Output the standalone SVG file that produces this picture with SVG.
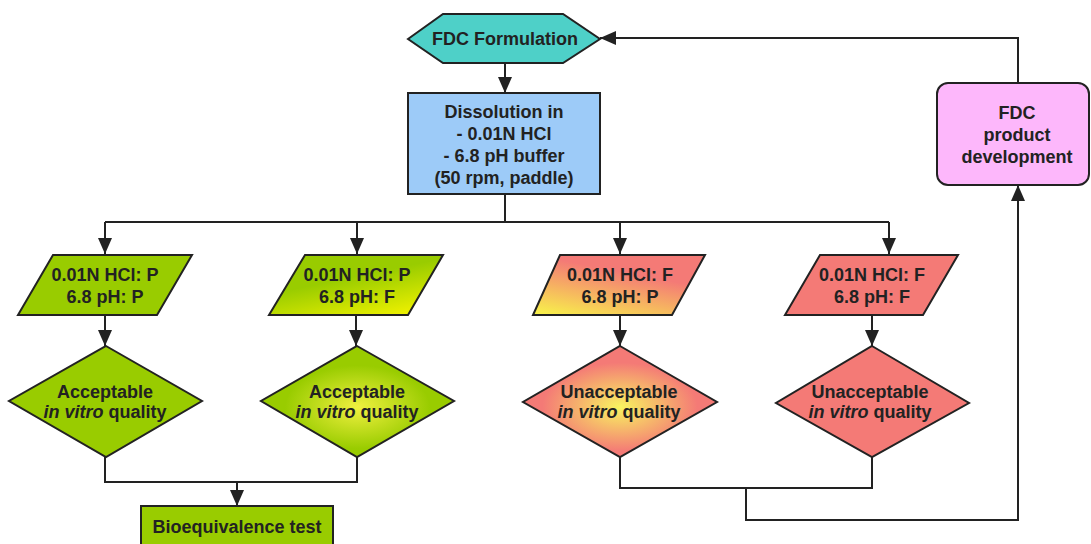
<svg xmlns="http://www.w3.org/2000/svg" width="1091" height="544" viewBox="0 0 1091 544">
<style>
.s{stroke:#222;stroke-width:2;stroke-linejoin:miter}
.t{font-family:"Liberation Sans",Arial,sans-serif;font-weight:bold;font-size:18px;fill:#222;text-anchor:middle}
.c{fill:none;stroke:#222;stroke-width:2}
.green{fill:#99CC00}
.red{fill:#F47A76}
</style>
<defs>
<marker id="ah" viewBox="0 0 16 14" refX="16" refY="7" markerWidth="16" markerHeight="14" markerUnits="userSpaceOnUse" orient="auto">
<path d="M0,0 L16,7 L0,14 Z" fill="#222"/>
</marker>
<linearGradient id="gy" x1="0.3" y1="0" x2="0.9" y2="1">
<stop offset="0.35" stop-color="#99CC00"/>
<stop offset="1" stop-color="#F6F400"/>
</linearGradient>
<linearGradient id="yr" x1="0.05" y1="1" x2="0.6" y2="0">
<stop offset="0" stop-color="#F8F24A"/>
<stop offset="0.75" stop-color="#F47A76"/>
</linearGradient>
<radialGradient id="rgy" cx="0.5" cy="0.55" r="0.5">
<stop offset="0" stop-color="#F0F040"/>
<stop offset="0.75" stop-color="#99CC00"/>
</radialGradient>
<radialGradient id="rry" cx="0.5" cy="0.55" r="0.5">
<stop offset="0" stop-color="#F8F460"/>
<stop offset="0.8" stop-color="#F47A76"/>
</radialGradient>
</defs>
<rect width="1091" height="544" fill="#fff"/>

<g id="connectors">
<path class="c" d="M505,63 V93" marker-end="url(#ah)"/>
<path class="c" d="M505,194 V222"/>
<path class="c" d="M105,222 H889"/>
<path class="c" d="M105,222 V254" marker-end="url(#ah)"/>
<path class="c" d="M357,222 V254" marker-end="url(#ah)"/>
<path class="c" d="M620,222 V254" marker-end="url(#ah)"/>
<path class="c" d="M889,222 V254" marker-end="url(#ah)"/>
<path class="c" d="M105,315 V346" marker-end="url(#ah)"/>
<path class="c" d="M356,315 V346" marker-end="url(#ah)"/>
<path class="c" d="M620,315 V346" marker-end="url(#ah)"/>
<path class="c" d="M872,315 V346" marker-end="url(#ah)"/>
<path class="c" d="M105,457 V482 H357 V457"/>
<path class="c" d="M237,482 V506" marker-end="url(#ah)"/>
<path class="c" d="M620,457 V488 H872 V457"/>
<path class="c" d="M746,488 V520 H1018 V185" marker-end="url(#ah)"/>
<path class="c" d="M1018,83 V38 H600" marker-end="url(#ah)"/>
</g>

<g id="fdc-formulation">
<polygon class="s" fill="#4ED0C8" points="408,39 443,14 563,14 600,39 563,63 443,63"/>
<text class="t" x="505" y="45">FDC Formulation</text>
</g>

<g id="dissolution">
<rect class="s" fill="#9DCBF8" x="408" y="93" width="192" height="101"/>
<text class="t" x="504" y="118">Dissolution in</text>
<text class="t" x="504" y="140">- 0.01N HCl</text>
<text class="t" x="504" y="162">- 6.8 pH buffer</text>
<text class="t" x="504" y="184">(50 rpm, paddle)</text>
</g>

<g id="p1">
<polygon class="s green" points="53,255 192,255 157,315 18,315"/>
<text class="t" x="105" y="281">0.01N HCl: P</text>
<text class="t" x="105" y="303">6.8 pH: P</text>
</g>
<g id="p2">
<polygon class="s" fill="url(#gy)" points="305,255 443,255 408,315 269,315"/>
<text class="t" x="357" y="281">0.01N HCl: P</text>
<text class="t" x="357" y="303">6.8 pH: F</text>
</g>
<g id="p3">
<polygon class="s" fill="url(#yr)" points="560,255 705,255 672,315 533,315"/>
<text class="t" x="620" y="281">0.01N HCl: F</text>
<text class="t" x="620" y="303">6.8 pH: P</text>
</g>
<g id="p4">
<polygon class="s red" points="820,255 958,255 923,315 785,315"/>
<text class="t" x="872" y="281">0.01N HCl: F</text>
<text class="t" x="872" y="303">6.8 pH: F</text>
</g>

<g id="d1">
<polygon class="s green" points="106,346 202,401 106,457 9,401"/>
<text class="t" x="105" y="398">Acceptable</text>
<text class="t" x="105" y="418"><tspan font-style="italic">in vitro</tspan> quality</text>
</g>
<g id="d2">
<polygon class="s" fill="url(#rgy)" points="357,346 454,401 357,457 261,401"/>
<text class="t" x="357" y="398">Acceptable</text>
<text class="t" x="357" y="418"><tspan font-style="italic">in vitro</tspan> quality</text>
</g>
<g id="d3">
<polygon class="s" fill="url(#rry)" points="620,346 717,402 620,457 523,402"/>
<text class="t" x="619" y="398">Unacceptable</text>
<text class="t" x="619" y="418"><tspan font-style="italic">in vitro</tspan> quality</text>
</g>
<g id="d4">
<polygon class="s red" points="872,346 969,403 872,457 776,403"/>
<text class="t" x="870" y="398">Unacceptable</text>
<text class="t" x="870" y="418"><tspan font-style="italic">in vitro</tspan> quality</text>
</g>

<g id="bioequivalence">
<rect class="s green" x="141" y="506" width="192" height="50"/>
<text class="t" x="237" y="533">Bioequivalence test</text>
</g>

<g id="fdc-product">
<rect class="s" fill="#FDB7FB" x="937" y="83" width="152" height="102" rx="11"/>
<text class="t" x="1017" y="119">FDC</text>
<text class="t" x="1017" y="141">product</text>
<text class="t" x="1017" y="163">development</text>
</g>
</svg>
